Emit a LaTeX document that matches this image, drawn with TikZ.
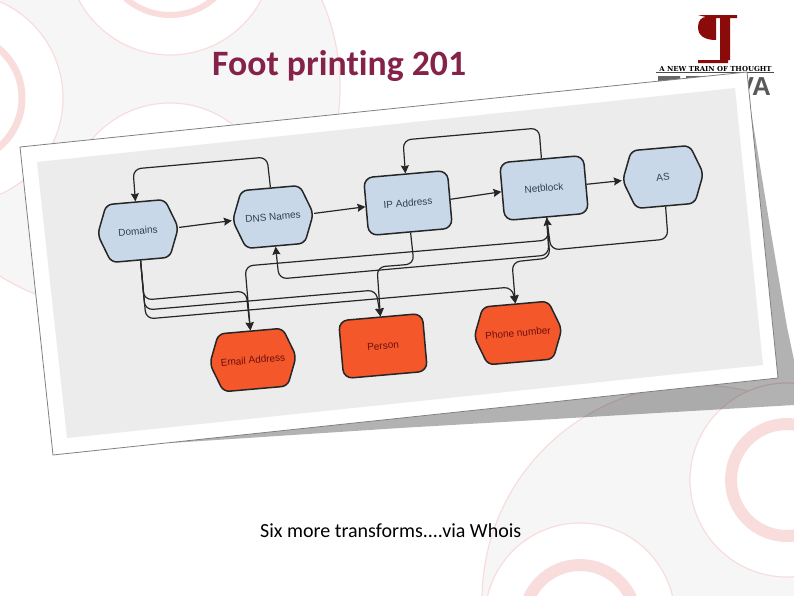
\documentclass[tikz,border=0pt]{standalone}
\usepackage{fontspec}
\setmainfont{Carlito}
\newfontfamily\boxfont{Liberation Sans}
\newfontfamily\logofont{DejaVu Serif}
\usetikzlibrary{arrows.meta,shapes.symbols}
\definecolor{paleink}{HTML}{F9DDDD}
\definecolor{palefill}{HTML}{F6F6F6}
\definecolor{sheetgray}{HTML}{ECECEC}
\definecolor{boxblue}{HTML}{C9D8E8}
\definecolor{boxred}{HTML}{F4572A}
\definecolor{bluetext}{HTML}{2F3F55}
\definecolor{redtext}{HTML}{6A1010}
\definecolor{titlered}{HTML}{85224A}
\definecolor{logored}{HTML}{8B0A0A}
\tikzset{
  nodebox/.style={draw=black!85,line width=1.5pt,minimum width=#1,minimum height=58pt,
    inner sep=0pt,rotate=5,font=\boxfont\fontsize{10}{12}\selectfont},
  nodebox/.default=84pt,
  hexbox/.style={nodebox=81pt,shape=signal,signal to=east and west,signal pointer angle=138,
    rounded corners=6pt},
  rectbox/.style={nodebox,rounded corners=9pt},
  bluebox/.style={fill=boxblue,text=bluetext},
  redbox/.style={fill=boxred,text=redtext},
  flow/.style={->,line width=1.2pt,draw=black!85,rounded corners=8pt},
  whitedisc/.style={fill=white,draw=paleink,line width=1.2pt},
  thickring/.style={draw=paleink,line width=#1},
}
\begin{document}
\begin{tikzpicture}[x=1pt,y=-1pt,>={Stealth[length=8pt,width=8pt,inset=1pt]}]
\useasboundingbox (0,0) rectangle (794,595);
\clip (0,0) rectangle (794,595);
% ---------- pale circles ----------
\fill[white] (0,0) rectangle (794,595);
\filldraw[fill=palefill,draw=paleink,line width=1.2pt] (118,88) circle (222);
\filldraw[fill=palefill,draw=paleink,line width=1.2pt] (697,600) circle (215);
\filldraw[whitedisc] (170,-48) circle (103);
\filldraw[whitedisc] (-42,98) circle (105);
\filldraw[whitedisc] (170,205) circle (102);
\filldraw[whitedisc] (787,480) circle (97);
\filldraw[whitedisc] (580,618) circle (95);
\draw[thickring=6pt] (170,-52) circle (67);
\draw[thickring=7pt] (-42,98) circle (64);
\draw[thickring=12pt] (787,480) circle (56);
\draw[thickring=12pt] (580,621) circle (56);
% ---------- logo ----------
\fill[logored] (698,15) -- (737,15) -- (737,18) -- (730,18) -- (730,60) -- (728,60) -- (728,63)
  -- (698,63) -- (698,60) -- (720,60) -- (720,18) -- (716,18) -- (716,40)
  .. controls (705,40) and (698,36) .. (698,27) .. controls (698,20) and (702,17) .. (706,17) -- cycle;
\node[anchor=base,inner sep=0pt,text=black] (motto) at (715.5,71)
  {\logofont\bfseries\fontsize{6.9}{8}\selectfont A NEW TRAIN OF THOUGHT};
\draw[black!70,line width=0.8pt] (656,72.5) -- (774,72.5);
\node[anchor=base east,inner sep=0pt,text=black!65] (logoname) at (771,95)
  {\boxfont\bfseries\fontsize{26}{26}\selectfont VA};
\fill[black!60] (658,76) rectangle (680,81) (686,76) rectangle (712,80);
% ---------- sheet ----------
\fill[black,opacity=0.3] (750,105) -- (770,227) -- (787,327) -- (794,360) -- (794,405)
  -- (400,428) -- (170,443) -- cycle;
\filldraw[fill=white,draw=black!50,line width=0.8pt] (20,147) -- (747,72) -- (778,378) -- (53,455) -- cycle;
\fill[sheetgray] (37,162) -- (735,88) -- (763,365) -- (67,438) -- cycle;
% ---------- top row ----------
\node[hexbox,bluebox] (domains) at (138,231) {Domains};
\node[hexbox,bluebox] (dnsnames) at (273,217) {DNS Names};
\node[rectbox,bluebox] (ipaddress) at (408,203) {IP Address};
\node[rectbox,bluebox] (netblock) at (544,188) {Netblock};
\node[hexbox,bluebox] (asnum) at (663,177) {AS};
% ---------- bottom row ----------
\node[hexbox,redbox] (email) at (253,360) {Email Address};
\node[rectbox,redbox] (person) at (383,346) {Person};
\node[hexbox,redbox] (phone) at (518,333) {Phone number};
% ---------- straight links ----------
\draw[flow] (domains.east) -- (dnsnames.west);
\draw[flow] (dnsnames.east) -- (ipaddress.west);
\draw[flow] (ipaddress.east) -- (netblock.west);
\draw[flow] (netblock.east) -- (asnum.west);
% ---------- loops on top ----------
\draw[flow] (dnsnames.north) -- (267,157) -- (133,169) -- (domains.north);
\draw[flow] (netblock.north) -- (539,128) -- (403,140) -- (ipaddress.north);
% ---------- from domains ----------
\draw[flow] (domains.south) -- (144,300) -- (246,291) -- (email.north);
\draw[flow] (domains.south) -- (145,310) -- (376,290) -- (person.north);
\draw[flow] (domains.south) -- (146,319) -- (512,287) -- (phone.north);
% ---------- from netblock and ip ----------
\draw[flow] (netblock.south) -- (549,240) -- (245,266) -- (email.north);
\draw[flow] (netblock.south) -- (549,255) -- (279,279) -- (dnsnames.south);
\draw[flow] (netblock.south) -- (550,258) -- (512,262) -- (phone.north);
\draw[flow] (ipaddress.south) -- (414,264) -- (377,267) -- (person.north);
\draw[flow] (asnum.south) -- (668,239) -- (551,250) -- (netblock.south);
% ---------- texts ----------
\node[anchor=base west,inner sep=0pt,text=titlered] (title) at (212,75)
  {\addfontfeature{Ligatures=NoCommon}\bfseries\fontsize{35.7}{40}\selectfont Foot printing 201};
\node[anchor=base west,inner sep=0pt] (caption) at (260,537)
  {\fontsize{20}{24}\selectfont Six more transforms....via Whois};
\end{tikzpicture}
\end{document}
